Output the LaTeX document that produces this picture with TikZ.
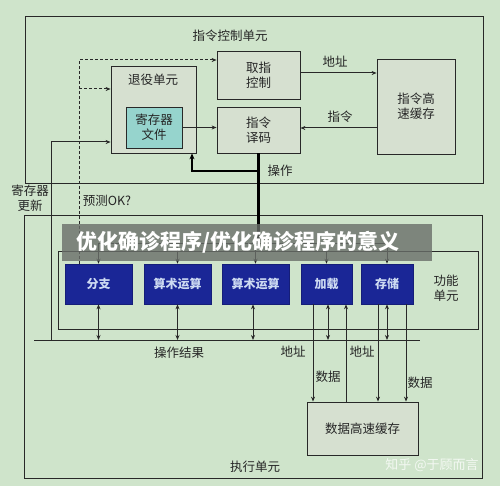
\documentclass[tikz,border=0pt]{standalone}
\usepackage{fontspec}
\setmainfont{Noto Sans CJK SC}
\usetikzlibrary{arrows.meta}
\definecolor{bgc}{RGB}{207,228,203}
\definecolor{boxc}{RGB}{214,224,208}
\definecolor{linec}{RGB}{40,40,40}
\definecolor{unitc}{RGB}{26,38,150}
\definecolor{unittx}{RGB}{205,218,242}
\definecolor{regc}{RGB}{150,212,205}
\definecolor{bannerc}{RGB}{105,110,105}
\tikzset{
  box/.style={draw=linec, line width=0.8pt, rectangle, inner sep=0pt},
  fillbox/.style={box, fill=boxc},
  unitbox/.style={rectangle, inner sep=0pt, fill=unitc, draw=unitc!80!black, line width=0.6pt,
     minimum height=40pt, text=unittx, font=\fontsize{12}{14}\selectfont\bfseries},
  lbl/.style={inner sep=0pt, text=black!85, font=\fontsize{12.5}{15}\selectfont, align=center},
  arr/.style={draw=linec, line width=1pt, -{Stealth[length=5pt,width=4pt]}},
  darr/.style={draw=linec, line width=0.8pt, {Stealth[length=5pt,width=4pt]}-{Stealth[length=5pt,width=4pt]}},
  thickline/.style={draw=black, line width=2.4pt},
  plain/.style={draw=linec, line width=0.8pt},
}
\begin{document}
\begin{tikzpicture}[x=1pt,y=-1pt]
\fill[bgc] (0,0) rectangle (500,486);
\useasboundingbox (0,0) rectangle (500,486);

% outer frames
\node[box, minimum width=458pt, minimum height=167pt] (ictrl) at (254,99.5) {};
\node[lbl] (ictrlL) at (230,36) {指令控制单元};
\node[box, minimum width=458pt, minimum height=263pt] (exec) at (253,346.5) {};
\node[lbl] (execL) at (255,467) {执行单元};
\node[box, minimum width=420pt, minimum height=78pt] (fu) at (268,290) {};
\node[lbl] (fuL) at (446,288) {功能\\单元};

% instruction control boxes
\node[fillbox, minimum width=85pt, minimum height=87pt] (retire) at (153.5,109.5) {};
\node[lbl] (retireL) at (153,80) {退役单元};
\node[box, fill=regc, minimum width=56pt, minimum height=41pt, lbl, draw=linec] (regfile) at (154,127.5) {寄存器\\文件};
\node[fillbox, lbl, draw=linec, minimum width=83pt, minimum height=48pt] (fetch) at (258.5,75) {取指\\控制};
\node[fillbox, lbl, draw=linec, minimum width=83pt, minimum height=46pt] (decode) at (258.5,130) {指令\\译码};
\node[fillbox, lbl, draw=linec, minimum width=78pt, minimum height=95pt] (icache) at (416,106.5) {指令高\\速缓存};

% functional units
\node[unitbox, minimum width=67pt] (u1) at (98.5,284) {分支};
\node[unitbox, minimum width=67pt] (u2) at (177.5,284) {算术运算};
\node[unitbox, minimum width=67pt] (u3) at (255.5,284) {算术运算};
\node[unitbox, minimum width=51pt] (u4) at (326.5,284) {加载};
\node[unitbox, minimum width=52pt] (u5) at (387,284) {存储};

% data cache
\node[fillbox, lbl, draw=linec, minimum width=111pt, minimum height=53pt] (dcache) at (362.5,428.5) {数据高速缓存};

% coordinates
\coordinate (opj) at (258.5,171);
\coordinate (opc) at (192,171);
\coordinate (busL) at (98.5,243);
\coordinate (busR) at (387,243);
\coordinate (dtop) at (79,60);
\coordinate (dmid) at (79,89);
\coordinate (rbot) at (51,340);
\coordinate (rtop) at (51,142);
\coordinate (resL) at (34,340);
\coordinate (resR) at (420,340);

% fetch <-> icache
\draw[arr] (fetch.east |- 0,73) -- (icache.west |- 0,73);
\node[lbl] (addrT) at (335,62) {地址};
\draw[arr] (icache.west |- 0,128) -- (decode.east |- 0,128);
\node[lbl] (instT) at (340,117) {指令};
\draw[arr] (regfile.east) -- (decode.west |- regfile.east);

% operation thick line
\draw[thickline] (decode.south) -- (decode.south |- busL);
\draw[line width=2.4pt, black, -{Stealth[length=6pt,width=5pt]}] (opj) -- (opc) -- (retire.south -| opc);
\node[lbl] (opL) at (280,171) {操作};

% dispatch bus
\draw[plain] (busL) -- (busR);
\foreach \u in {u1,u2,u3,u4,u5}{
  \draw[arr] (\u.north |- busL) -- (\u.north);
}

% dashed prediction line
\draw[arr, dashed, dash pattern=on 3pt off 2pt] (u1.north -| dtop) -- (dtop) -- (fetch.west |- dtop);
\draw[arr, dashed, dash pattern=on 3pt off 2pt] (dmid) -- (retire.west |- dmid);
\node[lbl] (predL) at (107,201) {预测OK?};

% register update
\draw[arr] (rbot) -- (rtop) -- (retire.west |- rtop);
\node[lbl] (regupd) at (30,198) {寄存器\\更新};

% result bus
\draw[plain] (resL) -- (resR);
\node[lbl] (resLbl) at (179,353) {操作结果};
\draw[darr] (u1.south) -- (u1.south |- resL);
\draw[darr] (u2.south) -- (u2.south |- resL);
\draw[darr] (u3.south -| 253,0) -- (253,340);
\draw[darr] (u4.south -| 328,0) -- (328,340);
\draw[darr] (u5.south) -- (u5.south |- resL);

% load / store to data cache
\draw[arr] (u4.south -| 313,0) -- (dcache.north -| 313,0);
\draw[arr] (dcache.north -| 346,0) -- (u4.south -| 346,0);
\draw[arr] (u5.south -| 378,0) -- (dcache.north -| 378,0);
\draw[arr] (u5.south -| 406,0) -- (dcache.north -| 406,0);
\node[lbl] (ldA) at (293,352) {地址};
\node[lbl] (ldD) at (328,377) {数据};
\node[lbl] (stA) at (362,352) {地址};
\node[lbl] (stD) at (420,383) {数据};

% banner overlay
\fill[bannerc, opacity=0.8] (62,224) rectangle (432,261);
\node[anchor=west, inner sep=0pt, text=white, font=\fontsize{21}{24}\selectfont\bfseries] (banner) at (76,242) {优化确诊程序/优化确诊程序的意义};

% watermark
\node[inner sep=0pt, text=white, opacity=0.75, font=\fontsize{13}{15}\selectfont] (wm) at (432,465) {知乎 @于顾而言};
\end{tikzpicture}
\end{document}
